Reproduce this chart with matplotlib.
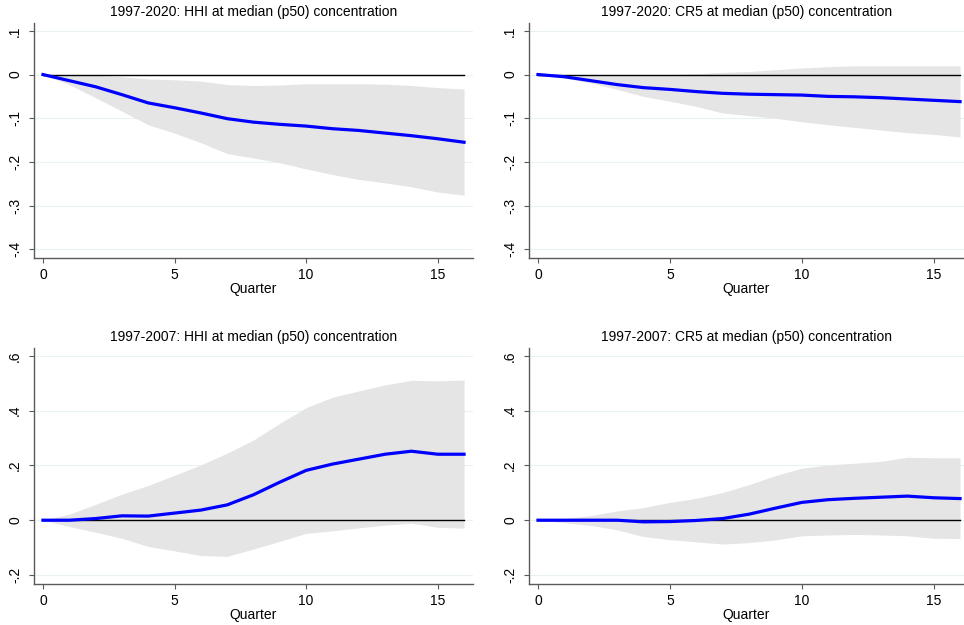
import numpy as np
import matplotlib
matplotlib.use('Agg')
import matplotlib.pyplot as plt

plt.rcParams['font.family'] = ['Liberation Sans', 'DejaVu Sans']

quarter = list(range(17))

# 1997-2020, HHI
hhi20_irf = [0, -0.014, -0.028, -0.046, -0.065, -0.076, -0.088, -0.101, -0.109, -0.114,
             -0.118, -0.124, -0.128, -0.134, -0.140, -0.147, -0.155]
hhi20_hi = [0, -0.001, -0.002, -0.005, -0.010, -0.012, -0.015, -0.023, -0.025, -0.024,
            -0.021, -0.021, -0.021, -0.022, -0.025, -0.030, -0.033]
hhi20_lo = [0, -0.023, -0.053, -0.084, -0.115, -0.134, -0.156, -0.181, -0.191, -0.202,
            -0.216, -0.229, -0.240, -0.248, -0.257, -0.269, -0.276]

# 1997-2020, CR5
cr520_irf = [0, -0.005, -0.014, -0.023, -0.030, -0.034, -0.039, -0.043, -0.045, -0.046,
             -0.047, -0.050, -0.051, -0.053, -0.056, -0.059, -0.062]
cr520_hi = [0, 0.000, -0.001, -0.001, -0.001, 0.000, 0.002, 0.005, 0.007, 0.011,
            0.015, 0.018, 0.020, 0.020, 0.020, 0.020, 0.020]
cr520_lo = [0, -0.008, -0.019, -0.034, -0.050, -0.061, -0.073, -0.088, -0.094, -0.100,
            -0.108, -0.115, -0.121, -0.127, -0.133, -0.137, -0.143]

# 1997-2007, HHI
hhi07_irf = [0, 0.000, 0.006, 0.016, 0.015, 0.026, 0.037, 0.056, 0.093, 0.139,
             0.182, 0.205, 0.223, 0.241, 0.252, 0.241, 0.241]
hhi07_hi = [0, 0.022, 0.058, 0.095, 0.127, 0.164, 0.202, 0.245, 0.293, 0.354,
            0.411, 0.449, 0.472, 0.494, 0.511, 0.509, 0.512]
hhi07_lo = [0, -0.023, -0.044, -0.066, -0.096, -0.112, -0.129, -0.132, -0.105, -0.077,
            -0.048, -0.039, -0.028, -0.018, -0.011, -0.026, -0.029]

# 1997-2007, CR5
cr507_irf = [0, 0.000, 0.000, 0.000, -0.006, -0.005, -0.001, 0.006, 0.022, 0.044,
             0.065, 0.075, 0.080, 0.084, 0.088, 0.082, 0.079]
cr507_hi = [0, 0.006, 0.017, 0.034, 0.046, 0.065, 0.080, 0.101, 0.130, 0.163,
            0.190, 0.202, 0.208, 0.215, 0.230, 0.228, 0.228]
cr507_lo = [0, -0.009, -0.019, -0.035, -0.060, -0.071, -0.079, -0.087, -0.082, -0.072,
            -0.057, -0.054, -0.052, -0.054, -0.057, -0.066, -0.067]

top_ticks = [0.1, 0, -0.1, -0.2, -0.3, -0.4]
top_labels = ['.1', '0', '-.1', '-.2', '-.3', '-.4']
bot_ticks = [0.6, 0.4, 0.2, 0, -0.2]
bot_labels = ['.6', '.4', '.2', '0', '-.2']

W, H = 964, 625
fig = plt.figure(figsize=(W / 100, H / 100), dpi=100)


def panel(rect, title, irf, lo, hi, ticks, labels, ylim, xmax):
    l, t, r, b = rect
    ax = fig.add_axes([l / W, 1 - b / H, (r - l) / W, (b - t) / H])
    ax.fill_between(quarter, lo, hi, color='#e5e5e5', lw=0, zorder=1)
    for v in ticks:
        ax.axhline(v, color='#eaf2f3', lw=0.8, zorder=0)
    ax.plot([0, 16], [0, 0], color='black', lw=1.0, zorder=2)
    ax.plot(quarter, irf, color='#0000ff', lw=2.3, zorder=3)
    ax.set_xlim(-0.34, xmax)
    ax.set_ylim(*ylim)
    ax.set_xticks([0, 5, 10, 15])
    ax.set_yticks(ticks)
    ax.set_yticklabels(labels, rotation=90, va='center')
    ax.spines['top'].set_visible(False)
    ax.spines['right'].set_visible(False)
    for s in ('left', 'bottom'):
        ax.spines[s].set_color('#5a5a5a')
        ax.spines[s].set_linewidth(1.0)
    ax.tick_params(axis='both', labelsize=10, length=3.5, width=0.8,
                   color='#5a5a5a')
    ax.tick_params(axis='x', pad=4)
    ax.tick_params(axis='y', pad=5)
    ax.set_xlabel('Quarter', fontsize=10, labelpad=0)
    ax.set_title(title, fontsize=10, pad=5)
    return ax


panel((34, 23, 473, 258), '1997-2020: HHI at median (p50) concentration',
      hhi20_irf, hhi20_lo, hhi20_hi, top_ticks, top_labels, (-0.42, 0.118), 16.34)
panel((529, 23, 964, 258), '1997-2020: CR5 at median (p50) concentration',
      cr520_irf, cr520_lo, cr520_hi, top_ticks, top_labels, (-0.42, 0.118), 16.15)
panel((34, 348, 473, 584), '1997-2007: HHI at median (p50) concentration',
      hhi07_irf, hhi07_lo, hhi07_hi, bot_ticks, bot_labels, (-0.233, 0.629), 16.34)
panel((529, 348, 964, 584), '1997-2007: CR5 at median (p50) concentration',
      cr507_irf, cr507_lo, cr507_hi, bot_ticks, bot_labels, (-0.233, 0.629), 16.15)

fig.savefig('out.png', dpi=100)
